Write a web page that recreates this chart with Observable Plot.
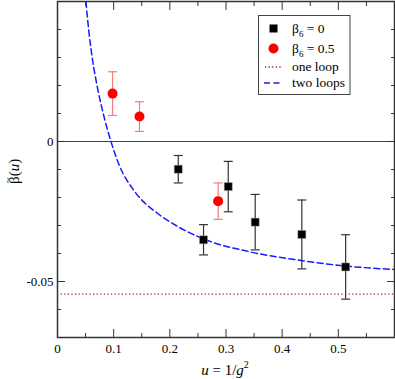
<!DOCTYPE html>
<html><head><meta charset="utf-8">
<script src="https://cdn.jsdelivr.net/npm/d3@7"></script>
<script src="https://cdn.jsdelivr.net/npm/@observablehq/plot@0.6"></script>
<style>body{margin:0;background:#fff} #chart{width:395px;height:379px} #chart svg, #chart svg text{font-family:"Liberation Serif", serif !important}</style>
</head><body><div id="chart"></div>
<script>
// beta6 = 0 (black squares)
const u0 = [0.215, 0.260, 0.304, 0.352, 0.435, 0.513];
const beta0 = [-0.0099, -0.0351, -0.0161, -0.0288, -0.0332, -0.0448];
const err0 = [0.0049, 0.0054, 0.0090, 0.0099, 0.0123, 0.0115];
// beta6 = 0.5 (red circles)
const u05 = [0.098, 0.146, 0.286];
const beta05 = [0.0171, 0.0089, -0.0213];
const err05 = [0.0078, 0.0053, 0.0065];
// one loop (constant)
const oneLoop = -0.0545;
// two loops (curve)
const twoLoopU = [0.0506, 0.0560, 0.0625, 0.0714, 0.0833, 0.0952, 0.110, 0.138, 0.179, 0.211, 0.260, 0.345, 0.434, 0.514, 0.600];
const twoLoopBeta = [0.050, 0.0390, 0.0290, 0.0190, 0.0085, 0.0, -0.0085, -0.0180, -0.0258, -0.0300, -0.0348, -0.0395, -0.0425, -0.0445, -0.0457];
// ticks
const xMajor = [0, 0.1, 0.2, 0.3, 0.4, 0.5, 0.6];
const xMinor = [0.05, 0.15, 0.25, 0.35, 0.45, 0.55];
const xLabels = [0, 0.1, 0.2, 0.3, 0.4, 0.5];
const yMajor = [-0.05, 0, 0.05];
const yMinor = [-0.07, -0.06, -0.04, -0.03, -0.02, -0.01, 0.01, 0.02, 0.03, 0.04];
const yLabels = [-0.05, 0];

const black = u0.map((u, i) => ({u, beta: beta0[i], err: err0[i]}));
const red = u05.map((u, i) => ({u, beta: beta05[i], err: err05[i]}));
const twoLoop = twoLoopU.map((u, i) => ({u, beta: twoLoopBeta[i]}));

const cap = {draw(ctx, size) { const w = Math.sqrt(size / Math.PI); ctx.moveTo(-w, 0); ctx.lineTo(w, 0); }};
const axisStroke = "#333";
const font = "Liberation Serif";

const plot = Plot.plot({
  width: 395, height: 379,
  marginLeft: 57, marginRight: 1, marginTop: 1, marginBottom: 42,
  x: {domain: [0, 0.6]},
  y: {domain: [-0.07, 0.05]},
  style: {fontFamily: font, fontSize: "13px", background: "#fff", color: "#000"},
  marks: [
    Plot.ruleY([0], {stroke: "#444", strokeWidth: 1}),
    Plot.ruleY([oneLoop], {stroke: "#8b1a5a", strokeWidth: 1.3, strokeDasharray: "1.2,2.4"}),
    Plot.line(twoLoop, {x: "u", y: "beta", curve: "monotone-x", stroke: "#1a1aff", strokeWidth: 1.5, strokeDasharray: "6,3.5", clip: true}),
    Plot.ruleX(black, {x: "u", y1: d => d.beta - d.err, y2: d => d.beta + d.err, stroke: "#333", strokeWidth: 1.2}),
    Plot.dot(black, {x: "u", y: d => d.beta - d.err, symbol: cap, r: 4.5, stroke: "#333", fill: "none", strokeWidth: 1.2}),
    Plot.dot(black, {x: "u", y: d => d.beta + d.err, symbol: cap, r: 4.5, stroke: "#333", fill: "none", strokeWidth: 1.2}),
    Plot.ruleX(red, {x: "u", y1: d => d.beta - d.err, y2: d => d.beta + d.err, stroke: "#f37b7b", strokeWidth: 1.2}),
    Plot.dot(red, {x: "u", y: d => d.beta - d.err, symbol: cap, r: 4.5, stroke: "#f37b7b", fill: "none", strokeWidth: 1.2}),
    Plot.dot(red, {x: "u", y: d => d.beta + d.err, symbol: cap, r: 4.5, stroke: "#f37b7b", fill: "none", strokeWidth: 1.2}),
    Plot.dot(black, {x: "u", y: "beta", symbol: "square", r: 4.5, fill: "#000", stroke: "#999", strokeWidth: 0.5}),
    Plot.dot(red, {x: "u", y: "beta", symbol: "circle", r: 5, fill: "#ff0000", stroke: "none"}),
    Plot.frame({stroke: axisStroke, strokeWidth: 1.5}),
    // tick labels
    Plot.axisX(xLabels, {anchor: "bottom", tickSize: 0, tickPadding: 6, tickFormat: d => String(d), label: null}),
    Plot.axisY(yLabels, {anchor: "left", tickSize: 0, tickPadding: 4, tickFormat: d => String(d), label: null}),
    // inward ticks
    Plot.axisX(xMajor, {anchor: "bottom", tickSize: -8, fill: "none", stroke: axisStroke, label: null}),
    Plot.axisX(xMinor, {anchor: "bottom", tickSize: -4, fill: "none", stroke: axisStroke, label: null}),
    Plot.axisX(xMajor, {anchor: "top", tickSize: -8, fill: "none", stroke: axisStroke, label: null}),
    Plot.axisX(xMinor, {anchor: "top", tickSize: -4, fill: "none", stroke: axisStroke, label: null}),
    Plot.axisY(yMajor, {anchor: "left", tickSize: -8, fill: "none", stroke: axisStroke, label: null}),
    Plot.axisY(yMinor, {anchor: "left", tickSize: -4, fill: "none", stroke: axisStroke, label: null}),
    Plot.axisY(yMajor, {anchor: "right", tickSize: -8, fill: "none", stroke: axisStroke, label: null}),
    Plot.axisY(yMinor, {anchor: "right", tickSize: -4, fill: "none", stroke: axisStroke, label: null})
  ]
});

const svg = d3.select(plot);

// axis titles
const xt = svg.append("text").attr("x", 225).attr("y", 375).attr("text-anchor", "middle")
  .attr("font-family", font).attr("font-size", 15).attr("fill", "#000");
xt.append("tspan").attr("font-style", "italic").text("u");
xt.append("tspan").text(" = 1/");
xt.append("tspan").attr("font-style", "italic").text("g");
xt.append("tspan").attr("font-size", 10).attr("dy", -7).text("2");

const yg = svg.append("g").attr("transform", "translate(19,184) rotate(-90)")
  .attr("font-family", font).attr("font-size", 15).attr("fill", "#000").attr("text-anchor", "start");
const yt = yg.append("text").attr("x", 0).attr("y", 0);
yt.append("tspan").text("\u03B2(");
yt.append("tspan").attr("font-style", "italic").text("u");
yt.append("tspan").text(")");
yg.append("text").attr("x", 0.5).attr("y", -8).attr("font-size", 11).text("~");

// legend
const lg = svg.append("g").attr("font-family", font).attr("font-size", 13.5).attr("fill", "#000").attr("text-anchor", "start");
lg.append("rect").attr("x", 258.5).attr("y", 15.5).attr("width", 91.5).attr("height", 79)
  .attr("fill", "#fff").attr("stroke", "#444").attr("stroke-width", 1);
lg.append("rect").attr("x", 269.5).attr("y", 24.5).attr("width", 8).attr("height", 8).attr("fill", "#000");
lg.append("circle").attr("cx", 273.5).attr("cy", 48.5).attr("r", 5).attr("fill", "#ff0000");
lg.append("line").attr("x1", 265).attr("x2", 283).attr("y1", 67).attr("y2", 67)
  .attr("stroke", "#8b1a5a").attr("stroke-width", 1.3).attr("stroke-dasharray", "1.2,2.4");
lg.append("line").attr("x1", 264).attr("x2", 283).attr("y1", 83).attr("y2", 83)
  .attr("stroke", "#1a1aff").attr("stroke-width", 1.5).attr("stroke-dasharray", "6,3.5");
function betaLabel(y, val) {
  const t = lg.append("text").attr("x", 292).attr("y", y);
  t.append("tspan").text("\u03B2");
  t.append("tspan").attr("font-size", 9).attr("dy", 4).text("6");
  t.append("tspan").attr("dy", -4).text(" = " + val);
}
betaLabel(33, "0");
betaLabel(53, "0.5");
lg.append("text").attr("x", 292).attr("y", 71).text("one loop");
lg.append("text").attr("x", 292).attr("y", 87).text("two loops");

document.getElementById("chart").appendChild(plot);
</script>
</body></html>
